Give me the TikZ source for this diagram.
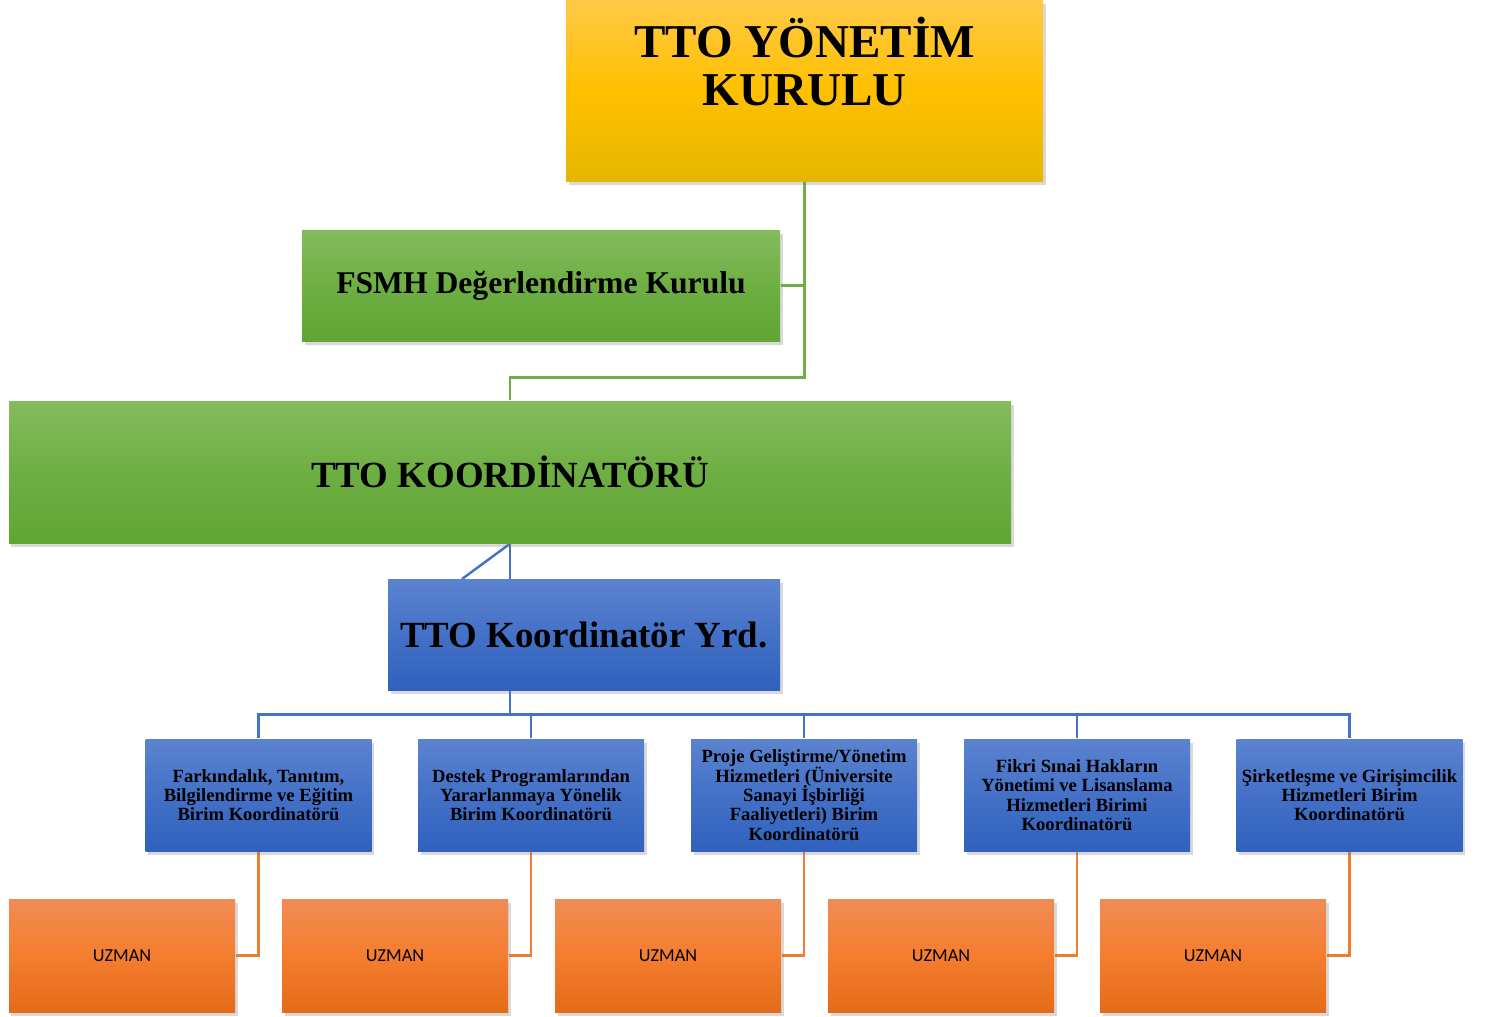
\documentclass[tikz,border=0pt]{standalone}
\usepackage{fontspec}
\setmainfont{Liberation Serif}
\newfontfamily\uzfont{Carlito}
\usetikzlibrary{shadows,backgrounds}
\newcommand\tightlines{\lineskiplimit=-5pt\relax}
\definecolor{goldtop}{HTML}{FFC947}
\definecolor{goldmid}{HTML}{FFC000}
\definecolor{goldbot}{HTML}{E6B700}
\definecolor{greentop}{HTML}{84BB5E}
\definecolor{greenmid}{HTML}{6EAF43}
\definecolor{greenbot}{HTML}{60A634}
\definecolor{bluetop}{HTML}{5B83CF}
\definecolor{bluemid}{HTML}{4471C7}
\definecolor{bluebot}{HTML}{2F61BD}
\definecolor{orangetop}{HTML}{F18C55}
\definecolor{orangemid}{HTML}{F47D2F}
\definecolor{orangebot}{HTML}{E46B18}
\definecolor{greenline}{HTML}{70AD47}
\definecolor{blueline}{HTML}{4472C4}
\definecolor{orangeline}{HTML}{ED7D31}
\begin{document}
\begin{tikzpicture}[
  box/.style={rectangle, inner sep=0pt, align=center, font=\bfseries,
    drop shadow={shadow xshift=0.025cm, shadow yshift=-0.04cm, opacity=0.3}},
  goldbox/.style={box, top color=goldtop, bottom color=goldbot, middle color=goldmid},
  greenbox/.style={box, top color=greentop, bottom color=greenbot, middle color=greenmid},
  bluebox/.style={box, top color=bluetop, bottom color=bluebot, middle color=bluemid},
  orangebox/.style={box, top color=orangetop, bottom color=orangebot, middle color=orangemid,
    font=\uzfont\fontsize{5.2}{6}\selectfont},
  birim/.style={bluebox, minimum width=2.26cm, minimum height=1.12cm,
    font=\bfseries\fontsize{5.3}{5.5}\selectfont\tightlines},
  uzman/.style={orangebox, minimum width=2.26cm, minimum height=1.13cm},
  greenlink/.style={draw=greenline, line width=0.7pt},
  bluelink/.style={draw=blueline, line width=0.7pt},
  orangelink/.style={draw=orangeline, line width=0.7pt}]
\useasboundingbox (0,0) rectangle (14.85,-10.16);
\node[goldbox, minimum width=4.77cm, minimum height=1.81cm] (yk) at (8.045, -0.905) {};
\node[anchor=north, inner sep=0pt, align=center, font=\bfseries\fontsize{13.4}{13.7}\selectfont\tightlines]
  (yktext) at ([yshift=-0.17cm]yk.north) {TTO YÖNETİM\\KURULU};
\node[greenbox, minimum width=4.78cm, minimum height=1.11cm,
  font=\bfseries\fontsize{9}{11}\selectfont] (fsmh) at (5.41, -2.855) {FSMH Değerlendirme Kurulu};
\node[greenbox, minimum width=10.02cm, minimum height=1.42cm,
  font=\bfseries\fontsize{10.5}{12}\selectfont] (koord) at (5.10, -4.72) {TTO KOORDİNATÖRÜ};
\node[bluebox, minimum width=3.92cm, minimum height=1.11cm,
  font=\bfseries\fontsize{10.5}{12}\selectfont] (yrd) at (5.84, -6.345) {TTO Koordinatör Yrd.};
\coordinate (diag) at (4.62, -5.79);
\node[birim] (b1) at (2.585, -7.95) {Farkındalık, Tanıtım,\\Bilgilendirme ve Eğitim\\Birim Koordinatörü};
\node[birim] (b2) at (5.31, -7.95) {Destek Programlarından\\Yararlanmaya Yönelik\\Birim Koordinatörü};
\node[birim] (b3) at (8.04, -7.95) {Proje Geliştirme/Yönetim\\Hizmetleri (Üniversite\\Sanayi İşbirliği\\Faaliyetleri) Birim\\Koordinatörü};
\node[birim] (b4) at (10.77, -7.95) {Fikri Sınai Hakların\\Yönetimi ve Lisanslama\\Hizmetleri Birimi\\Koordinatörü};
\node[birim] (b5) at (13.495, -7.95) {Şirketleşme ve Girişimcilik\\Hizmetleri Birim\\Koordinatörü};
\node[uzman] (u1) at (1.22, -9.555) {UZMAN};
\node[uzman] (u2) at (3.95, -9.555) {UZMAN};
\node[uzman] (u3) at (6.68, -9.555) {UZMAN};
\node[uzman] (u4) at (9.41, -9.555) {UZMAN};
\node[uzman] (u5) at (12.13, -9.555) {UZMAN};
\begin{scope}[on background layer]
\draw[greenlink] (yk.south) -- ++(0,-1.96) -| (koord.north);
\draw[greenlink] (fsmh.east) -- (fsmh.east -| yk.south);
\draw[bluelink] (koord.south) -- (diag);
\foreach \i in {1,...,5} {
  \draw[bluelink] (koord.south) -- ++(0,-1.71) -| (b\i.north);
  \draw[orangelink] (b\i.south) |- (u\i.east);
}
\end{scope}
\end{tikzpicture}
\end{document}
